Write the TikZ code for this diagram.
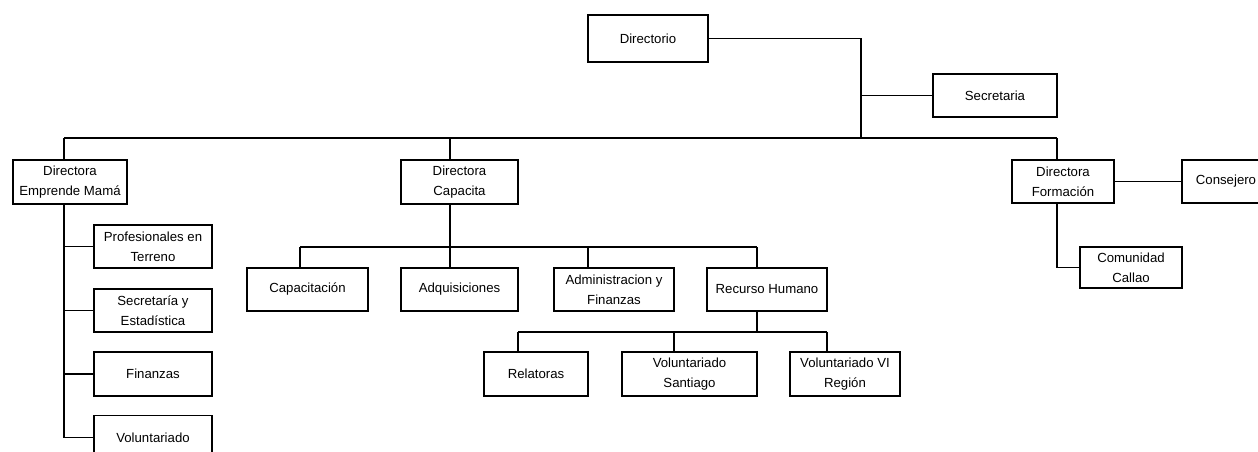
\documentclass[tikz,border=0pt]{standalone}
\usepackage{fontspec}
\setmainfont{Liberation Sans}
\begin{document}
\begin{tikzpicture}[x=1pt,y=-1pt,
  box/.style={draw=black,line width=1.9pt,fill=white,inner sep=0pt,align=center,
    font=\fontsize{13.2}{20}\selectfont,text=black},
  conn/.style={draw=black,line width=1.9pt}]
\useasboundingbox (0,0) rectangle (1258,452);
\clip (0,0) rectangle (1258,452);
% nodes
\node[box,minimum width=120pt,minimum height=47pt] (dir) at (648,38.5) {Directorio};
\node[box,minimum width=124pt,minimum height=43pt] (sec) at (995,95.5) {Secretaria};
\node[box,minimum width=114pt,minimum height=44pt] (dem) at (70,182) {Directora\\Emprende Mamá};
\node[box,minimum width=117pt,minimum height=44pt] (dcap) at (459.5,182) {Directora\\Capacita};
\node[box,minimum width=102pt,minimum height=43pt] (dfor) at (1063,181.5) {Directora\\Formación};
\node[box,minimum width=88pt,minimum height=43pt] (cons) at (1226,181.5) {Consejero};
\node[box,minimum width=118pt,minimum height=43pt] (prof) at (153,246.5) {Profesionales en\\Terreno};
\node[box,minimum width=118pt,minimum height=43pt] (secest) at (153,310.5) {Secretaría y\\Estadística};
\node[box,minimum width=118pt,minimum height=44pt] (fin) at (153,374) {Finanzas};
\node[box,minimum width=118pt,minimum height=44pt] (vol) at (153,437.5) {Voluntariado};
\node[box,minimum width=121pt,minimum height=43pt] (capn) at (307.5,289.5) {Capacitación};
\node[box,minimum width=117pt,minimum height=43pt] (adq) at (459.5,289.5) {Adquisiciones};
\node[box,minimum width=120pt,minimum height=43pt] (adm) at (614,289.5) {Administracion y\\Finanzas};
\node[box,minimum width=120pt,minimum height=43pt] (rh) at (767,289.5) {Recurso Humano};
\node[box,minimum width=104pt,minimum height=44pt] (rel) at (536,374) {Relatoras};
\node[box,minimum width=135pt,minimum height=44pt] (vsan) at (689.5,374) {Voluntariado\\Santiago};
\node[box,minimum width=110pt,minimum height=44pt] (vvi) at (845,374) {Voluntariado VI\\Región};
\node[box,minimum width=102pt,minimum height=41pt] (com) at (1131,267.5) {Comunidad\\Callao};
% coordinates
\coordinate (hub) at (861,138);
\coordinate (tem) at (64,138);
\coordinate (tcap) at (450,138);
\coordinate (tfor) at (1057,138);
\coordinate (emx) at (64,204);
\coordinate (capx) at (450,204);
\coordinate (capl) at (300,247);
\coordinate (capr) at (757,247);
\coordinate (adx) at (588,247);
\coordinate (rhx) at (757,311);
\coordinate (rhl) at (518,332);
\coordinate (rhr) at (827,332);
\coordinate (rhm) at (674,332);
\coordinate (forx) at (1057,203);
% connectors
\draw[conn] (dir.east) -| (hub);
\draw[conn] (hub |- sec.west) -- (sec.west);
\draw[conn] (tem) -- (tfor);
\draw[conn] (tem) -- (tem |- dem.north);
\draw[conn] (tcap) -- (tcap |- dcap.north);
\draw[conn] (tfor) -- (tfor |- dfor.north);
\draw[conn] (emx) |- (vol.west);
\draw[conn] (emx |- prof.west) -- (prof.west);
\draw[conn] (emx |- secest.west) -- (secest.west);
\draw[conn] (emx |- fin.west) -- (fin.west);
\draw[conn] (capx) -- (capx |- adq.north);
\draw[conn] (capl) -- (capr);
\draw[conn] (capl) -- (capl |- capn.north);
\draw[conn] (adx) -- (adx |- adm.north);
\draw[conn] (capr) -- (capr |- rh.north);
\draw[conn] (rhx) -- (rhx |- rhl);
\draw[conn] (rhl) -- (rhr);
\draw[conn] (rhl) -- (rhl |- rel.north);
\draw[conn] (rhm) -- (rhm |- vsan.north);
\draw[conn] (rhr) -- (rhr |- vvi.north);
\draw[conn] (forx) |- (com.west);
\draw[conn] (dfor.east) -- (cons.west);
\end{tikzpicture}
\end{document}
